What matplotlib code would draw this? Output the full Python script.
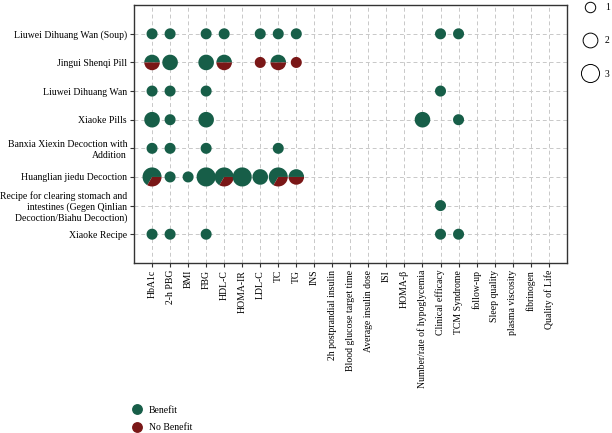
import matplotlib
matplotlib.use("Agg")
import matplotlib.pyplot as plt
from matplotlib.patches import Wedge
from matplotlib.transforms import ScaledTranslation
from matplotlib.lines import Line2D
import numpy as np

plt.rcParams['font.family'] = ['Liberation Serif', 'DejaVu Serif']

formulas = ['Liuwei Dihuang Wan (Soup)', 'Jingui Shenqi Pill', 'Liuwei Dihuang Wan',
            'Xiaoke Pills', 'Banxia Xiexin Decoction with\nAddition',
            'Huanglian jiedu Decoction',
            'Recipe for clearing stomach and\nintestines (Gegen Qinlian\nDecoction/Biahu Decoction)',
            'Xiaoke Recipe']
outcomes = ['HbA1c', '2-h PBG', 'BMI', 'FBG', 'HDL-C', 'HOMA-IR', 'LDL-C', 'TC', 'TG', 'INS',
            '2h postprandial insulin', 'Blood glucose target time', 'Average insulin dose',
            'ISI', 'HOMA-β', 'Number/rate of hypoglycemia', 'Clinical efficacy',
            'TCM Syndrome', 'follow-up', 'Sleep quality', 'plasma viscosity', 'fibrinogen',
            'Quality of Life']

# one entry per bubble: formula, outcome, studies with benefit, studies without
cell_formula = [0, 0, 0, 0, 0, 0, 0, 0, 0,
                1, 1, 1, 1, 1, 1, 1,
                2, 2, 2, 2,
                3, 3, 3, 3, 3,
                4, 4, 4, 4,
                5, 5, 5, 5, 5, 5, 5, 5, 5,
                6,
                7, 7, 7, 7, 7]
cell_outcome = ['HbA1c', '2-h PBG', 'FBG', 'HDL-C', 'LDL-C', 'TC', 'TG', 'Clinical efficacy', 'TCM Syndrome',
                'HbA1c', '2-h PBG', 'FBG', 'HDL-C', 'LDL-C', 'TC', 'TG',
                'HbA1c', '2-h PBG', 'FBG', 'Clinical efficacy',
                'HbA1c', '2-h PBG', 'FBG', 'Number/rate of hypoglycemia', 'TCM Syndrome',
                'HbA1c', '2-h PBG', 'FBG', 'TC',
                'HbA1c', '2-h PBG', 'BMI', 'FBG', 'HDL-C', 'HOMA-IR', 'LDL-C', 'TC', 'TG',
                'Clinical efficacy',
                'HbA1c', '2-h PBG', 'FBG', 'Clinical efficacy', 'TCM Syndrome']
benefit = [1, 1, 1, 1, 1, 1, 1, 1, 1,
           1, 2, 2, 1, 0, 1, 0,
           1, 1, 1, 1,
           2, 1, 2, 2, 1,
           1, 1, 1, 1,
           2, 1, 1, 3, 2, 3, 2, 2, 1,
           1,
           1, 1, 1, 1, 1]
no_benefit = [0, 0, 0, 0, 0, 0, 0, 0, 0,
              1, 0, 0, 1, 1, 1, 1,
              0, 0, 0, 0,
              0, 0, 0, 0, 0,
              0, 0, 0, 0,
              1, 0, 0, 0, 1, 0, 0, 1, 1,
              0,
              0, 0, 0, 0, 0]

green = '#175e48'
red = '#7a1717'
r1 = 0.055  # radius (inches) of a one-study bubble

fig = plt.figure(figsize=(6.12, 4.33), dpi=100)
ax = fig.add_axes([0.219, 0.393, 0.707, 0.595])

nrow = len(formulas)
for f, o, b, nb in zip(cell_formula, cell_outcome, benefit, no_benefit):
    x = outcomes.index(o) + 1
    y = nrow - f
    tot = b + nb
    r = r1 * np.sqrt(tot)
    tr = fig.dpi_scale_trans + ScaledTranslation(x, y, ax.transData)
    split = 360.0 * b / tot
    if b > 0:
        ax.add_patch(Wedge((0, 0), r, 0, split, transform=tr, color=green, lw=0, zorder=3))
    if nb > 0:
        ax.add_patch(Wedge((0, 0), r, split, 360, transform=tr, color=red, lw=0, zorder=3))

ax.set_xlim(0, len(outcomes) + 1)
ax.set_ylim(0, nrow + 1)
ax.set_xticks(np.arange(1, len(outcomes) + 1))
ax.set_xticklabels(outcomes, rotation=90, fontsize=7)
ax.set_yticks(np.arange(nrow, 0, -1))
ax.set_yticklabels(formulas, fontsize=7, multialignment='right')
ax.grid(True, ls=(0, (4, 3)), color='#c8c8c8', lw=0.7)
ax.set_axisbelow(True)
for s in ax.spines.values():
    s.set_color('#333333')
    s.set_linewidth(1.0)
ax.tick_params(length=3, width=0.8, color='#333333', pad=2)

# bubble size key
size_handles = [Line2D([], [], ls='none', marker='o', markerfacecolor='none',
                       markeredgecolor='black', markeredgewidth=0.7,
                       markersize=2 * r1 * 72 * np.sqrt(n) * 0.95) for n in (1, 2, 3)]
fig.legend(size_handles, ['1', '2', '3'], loc='upper left', bbox_to_anchor=(0.952, 1.0),
           frameon=False, fontsize=7, labelspacing=2.5, handletextpad=1.0,
           handlelength=1.0, borderaxespad=0, borderpad=0.3)

# benefit key
col_handles = [Line2D([], [], ls='none', marker='o', color=c, markersize=6.8) for c in (green, red)]
fig.legend(col_handles, ['Benefit', 'No Benefit'], loc='lower left', bbox_to_anchor=(0.2, -0.018),
           frameon=False, fontsize=7, labelspacing=0.85, handletextpad=0.6, handlelength=1.2)

fig.savefig('out.png', dpi=100)
